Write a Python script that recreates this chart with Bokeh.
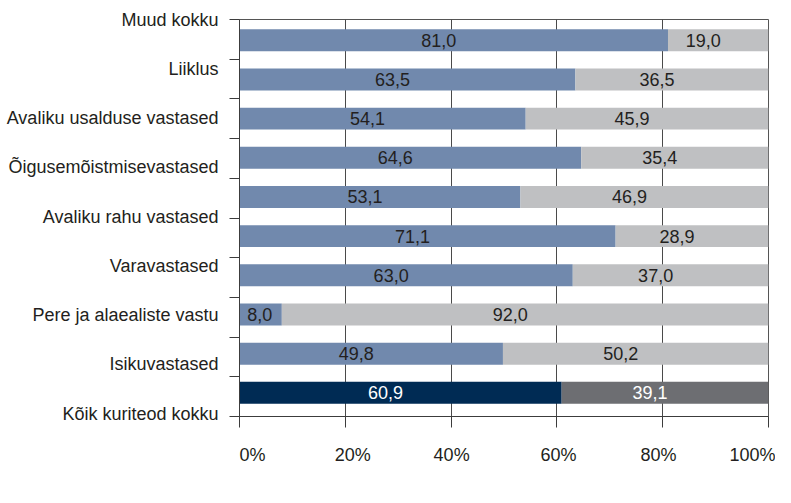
import numpy as np
from bokeh.plotting import figure
from bokeh.models import (ColumnDataSource, Range1d, FixedTicker, CustomJSTickFormatter,
                          Legend, LegendItem)
from bokeh.core.properties import value
from bokeh.embed import file_html
from bokeh.resources import INLINE

# ---------------- data (top to bottom) ----------------
mehed = [81.0, 63.5, 54.1, 64.6, 53.1, 71.1, 63.0, 8.0, 49.8, 60.9]
naised = [19.0, 36.5, 45.9, 35.4, 46.9, 28.9, 37.0, 92.0, 50.2, 39.1]
y_labels = ["Muud kokku", "Liiklus", "Avaliku usalduse vastased",
            "Õigusemõistmisevastased", "Avaliku rahu vastased", "Varavastased",
            "Pere ja alaealiste vastu", "Isikuvastased", "Kõik kuriteod kokku"]
x_tick_values = [0, 20, 40, 60, 80, 100]
x_tick_labels = ["0%", "20%", "40%", "60%", "80%", "100%"]
series_names = ["Mehed", "Naised"]
total_index = 9  # "Kõik kuriteod kokku" bar highlighted

# ---------------- style ----------------
FONT = "Liberation Sans"
C_M, C_N = "#7189AD", "#BFC0C2"
C_M_TOT, C_N_TOT = "#002B54", "#6D6E72"
TXT = "#231F20"
AX = "#3C3C3C"

FRAME_W, FRAME_H = 529, 397
B_L, B_R, B_T, B_B = 239, 7, 19, 0
PX_PER_X = FRAME_W / 100.0
BAR_STEP = 39.17          # px between bar centres
FIRST_BAR = 20.8          # px from frame top to first bar centre
y_top = -FIRST_BAR / BAR_STEP
y_bot = (FRAME_H - FIRST_BAR) / BAR_STEP

n = len(mehed)
ys = list(range(n))
tot = [m + w for m, w in zip(mehed, naised)]
c1 = [C_M_TOT if i == total_index else C_M for i in range(n)]
c2 = [C_N_TOT if i == total_index else C_N for i in range(n)]
tc = ["white" if i == total_index else TXT for i in range(n)]
t1 = [f"{v:.1f}".replace(".", ",") for v in mehed]
t2 = [f"{v:.1f}".replace(".", ",") for v in naised]
x1c = [m / 2 for m in mehed]
x2c = [m + w / 2 for m, w in zip(mehed, naised)]


def shift(center, left, txt):
    hw = 4.4 * len(txt)
    return max(-15.0, 7 + hw - (center - left) * PX_PER_X)


xo1 = [shift(c, 0, t) for c, t in zip(x1c, t1)]
xo2 = [shift(c, m, t) for c, m, t in zip(x2c, mehed, t2)]

src = ColumnDataSource(dict(y=ys, mehed=mehed, tot=tot, c1=c1, c2=c2, tc=tc,
                            t1=t1, t2=t2, x1c=x1c, x2c=x2c, xo1=xo1, xo2=xo2))

p = figure(frame_width=FRAME_W, frame_height=FRAME_H, output_backend="svg",
           toolbar_location=None, x_range=Range1d(0, 100),
           y_range=Range1d(y_bot, y_top),
           min_border_left=B_L, min_border_top=B_T, min_border_right=B_R,
           min_border_bottom=B_B)
p.outline_line_color = "#555555"
p.outline_line_width = 1

r1 = p.hbar(y="y", left=0, right="mehed", height=0.56, fill_color="c1",
            line_color=None, source=src)
r2 = p.hbar(y="y", left="mehed", right="tot", height=0.56, fill_color="c2",
            line_color=None, source=src)

for xc, tt, xo in (("x1c", "t1", "xo1"), ("x2c", "t2", "xo2")):
    p.text(x=xc, y="y", text=tt, x_offset=xo, text_color="tc",
           text_align="center", text_baseline="middle",
           text_font=value(FONT), text_font_size="18px", source=src)

# ----- x axis -----
x_label_pos = [2.46, 21.4, 40.1, 60.3, 79.2, 97.0]
xa = p.xaxis[0]
xa.ticker = FixedTicker(ticks=x_label_pos, minor_ticks=x_tick_values)
xa.formatter = CustomJSTickFormatter(args=dict(labels=x_tick_labels),
                                     code="return labels[index];")
xa.major_tick_out = 0
xa.major_tick_in = 0
xa.minor_tick_out = 11
xa.minor_tick_in = 0
xa.minor_tick_line_color = AX
xa.axis_line_color = AX
xa.major_label_standoff = 17
xa.major_label_text_font = FONT
xa.major_label_text_font_size = "18px"
xa.major_label_text_color = TXT

p.xgrid.ticker = FixedTicker(ticks=x_tick_values)
p.xgrid.grid_line_color = "#4A4A4A"
p.xgrid.grid_line_width = 1
p.ygrid.visible = False

# ----- y axis -----
tick_px = np.linspace(0, FRAME_H, n + 1)
tick_pos = [(t - FIRST_BAR) / BAR_STEP for t in tick_px]
lab_px = np.linspace(0.3, FRAME_H - 3.0, len(y_labels))
lab_pos = [(t - FIRST_BAR) / BAR_STEP for t in lab_px]
ya = p.yaxis[0]
ya.ticker = FixedTicker(ticks=lab_pos, minor_ticks=tick_pos)
ya.formatter = CustomJSTickFormatter(args=dict(labels=y_labels),
                                     code="return labels[index];")
ya.major_tick_out = 0
ya.major_tick_in = 0
ya.minor_tick_out = 10
ya.minor_tick_in = 0
ya.minor_tick_line_color = AX
ya.axis_line_color = AX
ya.major_label_standoff = 11
ya.major_label_text_font = FONT
ya.major_label_text_font_size = "18px"
ya.major_label_text_color = TXT

# ----- legend (below the x axis) -----
legend = Legend(items=[LegendItem(label=series_names[0], renderers=[r1], index=0),
                       LegendItem(label=series_names[1], renderers=[r2], index=0)],
                orientation="horizontal", location="top_center",
                padding=0, margin=0, spacing=16, label_standoff=9,
                glyph_width=13, glyph_height=13,
                label_text_font=FONT, label_text_font_size="18px",
                label_text_color=TXT, border_line_color=None,
                background_fill_alpha=0)
p.add_layout(legend, "below")

open("out.html", "w").write(file_html(p, INLINE))
